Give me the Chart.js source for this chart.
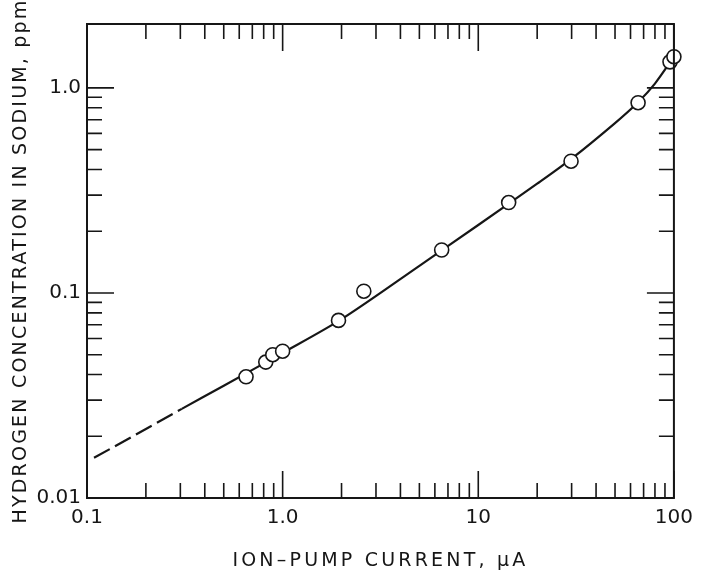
<!DOCTYPE html>
<html>
<head>
<meta charset="utf-8">
<script src="https://cdn.jsdelivr.net/npm/chart.js@4.4.1/dist/chart.umd.min.js"></script>
<style>
  html, body { margin: 0; padding: 0; background: #fff; }
  canvas { display: block; }
</style>
</head>
<body>
<canvas id="chartH2" width="701" height="574"></canvas>
<script>
// Puntos medidos (corriente de la bomba ionica, uA -> H en sodio, ppm)
const currentUA = [0.65, 0.82, 0.89, 1.0, 1.93, 2.6, 6.5, 14.3, 29.8, 65.6, 95.5, 100];
const hydrogenPpm = [0.039, 0.046, 0.050, 0.052, 0.0735, 0.102, 0.162, 0.276, 0.439, 0.847, 1.34, 1.42];

// Curva de calibracion (tramo continuo)
const fitCurrent = [0.305, 0.5, 1, 2, 5, 10, 20, 30, 50, 65.6, 80, 100];
const fitPpm = [0.0272, 0.0353, 0.0510, 0.0745, 0.1356, 0.2145, 0.341, 0.452, 0.674, 0.852, 1.05, 1.42];

// Extrapolacion (tramo discontinuo)
const extrapCurrent = [0.1086, 0.2, 0.305];
const extrapPpm = [0.0157, 0.0217, 0.0272];

// Marcas de las escalas
const xTickValues = [0.1, 1, 10, 100];
const xTickLabels = ['0.1', '1.0', '10', '100'];
const yTickValues = [0.01, 0.1, 1];
const yTickLabels = ['0.01', '0.1', '1.0'];

const ink = '#161616';

function toXY(xs, ys) {
    return xs.map(function(x, i) { return { x: x, y: ys[i] }; });
}

// Titulos de eje con letras espaciadas, como el rotulado original
function spacedTitle(scale, spacing) {
    if (scale._spaced) return;
    var orig = scale.drawTitle;
    scale.drawTitle = function() {
        this.ctx.save();
        this.ctx.letterSpacing = spacing;
        orig.apply(this, arguments);
        this.ctx.restore();
    };
    scale._spaced = true;
}

// Dibuja el marco y las marcas hacia dentro en los cuatro lados
var inwardTicks = {
    id: 'inwardTicks',
    afterDatasetsDraw: function(chart) {
        var ctx = chart.ctx;
        var a = chart.chartArea;
        var xs = chart.scales.x, ys = chart.scales.y;
        var major = 27, minor = 15;
        ctx.save();
        ctx.strokeStyle = ink;
        ctx.lineWidth = 2;
        ctx.strokeRect(a.left, a.top, a.right - a.left, a.bottom - a.top);
        ctx.lineWidth = 1.6;
        ctx.beginPath();
        for (var d = -1; d <= 2; d++) {
            for (var m = 1; m <= 9; m++) {
                var v = m * Math.pow(10, d);
                if (v < xs.min || v > xs.max) continue;
                var px = xs.getPixelForValue(v);
                var len = m === 1 ? major : minor;
                ctx.moveTo(px, a.bottom); ctx.lineTo(px, a.bottom - len);
                ctx.moveTo(px, a.top); ctx.lineTo(px, a.top + len);
            }
        }
        for (var e = -2; e <= 0; e++) {
            for (var k = 1; k <= 9; k++) {
                var w = k * Math.pow(10, e);
                if (w < ys.min || w > ys.max * 0.95) continue;
                var py = ys.getPixelForValue(w);
                var l = k === 1 ? major : minor;
                ctx.moveTo(a.left, py); ctx.lineTo(a.left + l, py);
                ctx.moveTo(a.right, py); ctx.lineTo(a.right - l, py);
            }
        }
        ctx.stroke();
        ctx.restore();
    }
};

var ctxH2 = document.getElementById('chartH2').getContext('2d');
new Chart(ctxH2, {
    type: 'scatter',
    data: {
        datasets: [{
            label: 'measured',
            data: toXY(currentUA, hydrogenPpm),
            pointRadius: 7,
            pointBackgroundColor: '#fff',
            pointBorderColor: ink,
            pointBorderWidth: 1.6,
            showLine: false,
            clip: false
        }, {
            label: 'fit',
            data: toXY(fitCurrent, fitPpm),
            showLine: true,
            borderColor: ink,
            borderWidth: 2.2,
            pointRadius: 0,
            tension: 0.3
        }, {
            label: 'extrapolated',
            data: toXY(extrapCurrent, extrapPpm),
            showLine: true,
            borderColor: ink,
            borderWidth: 2.2,
            borderDash: [18, 6],
            pointRadius: 0
        }]
    },
    options: {
        responsive: false,
        animation: false,
        layout: { padding: { top: 24, right: 25, left: 0, bottom: 0 } },
        plugins: {
            legend: { display: false },
            tooltip: { enabled: false }
        },
        scales: {
            x: {
                type: 'logarithmic',
                min: 0.1,
                max: 100,
                afterFit: function(s) { s.height = 76; spacedTitle(s, '3.2px'); },
                afterBuildTicks: function(s) {
                    s.ticks = xTickValues.map(function(v) { return { value: v }; });
                },
                grid: { display: false, drawTicks: false },
                border: { display: false },
                ticks: {
                    padding: 8,
                    color: ink,
                    maxRotation: 0,
                    font: { family: 'DejaVu Sans', size: 20 },
                    callback: function(v) {
                        var i = xTickValues.indexOf(v);
                        return i >= 0 ? xTickLabels[i] : '';
                    }
                },
                title: {
                    display: true,
                    text: 'ION–PUMP CURRENT, μA',
                    color: ink,
                    font: { family: 'DejaVu Sans', size: 19 },
                    padding: { top: 0, bottom: 2 }
                }
            },
            y: {
                type: 'logarithmic',
                min: 0.01,
                max: 2.05,
                afterFit: function(s) { s.width = 87; spacedTitle(s, '2.2px'); },
                afterBuildTicks: function(s) {
                    s.ticks = yTickValues.map(function(v) { return { value: v }; });
                },
                grid: { display: false, drawTicks: false },
                border: { display: false },
                ticks: {
                    padding: 6,
                    color: ink,
                    font: { family: 'DejaVu Sans', size: 20 },
                    callback: function(v) {
                        var i = yTickValues.indexOf(v);
                        return i >= 0 ? yTickLabels[i] : '';
                    }
                },
                title: {
                    display: true,
                    text: 'HYDROGEN CONCENTRATION IN SODIUM, ppm',
                    color: ink,
                    font: { family: 'DejaVu Sans', size: 19 },
                    padding: { top: 10, bottom: 0 }
                }
            }
        }
    },
    plugins: [inwardTicks]
});
</script>
</body>
</html>
